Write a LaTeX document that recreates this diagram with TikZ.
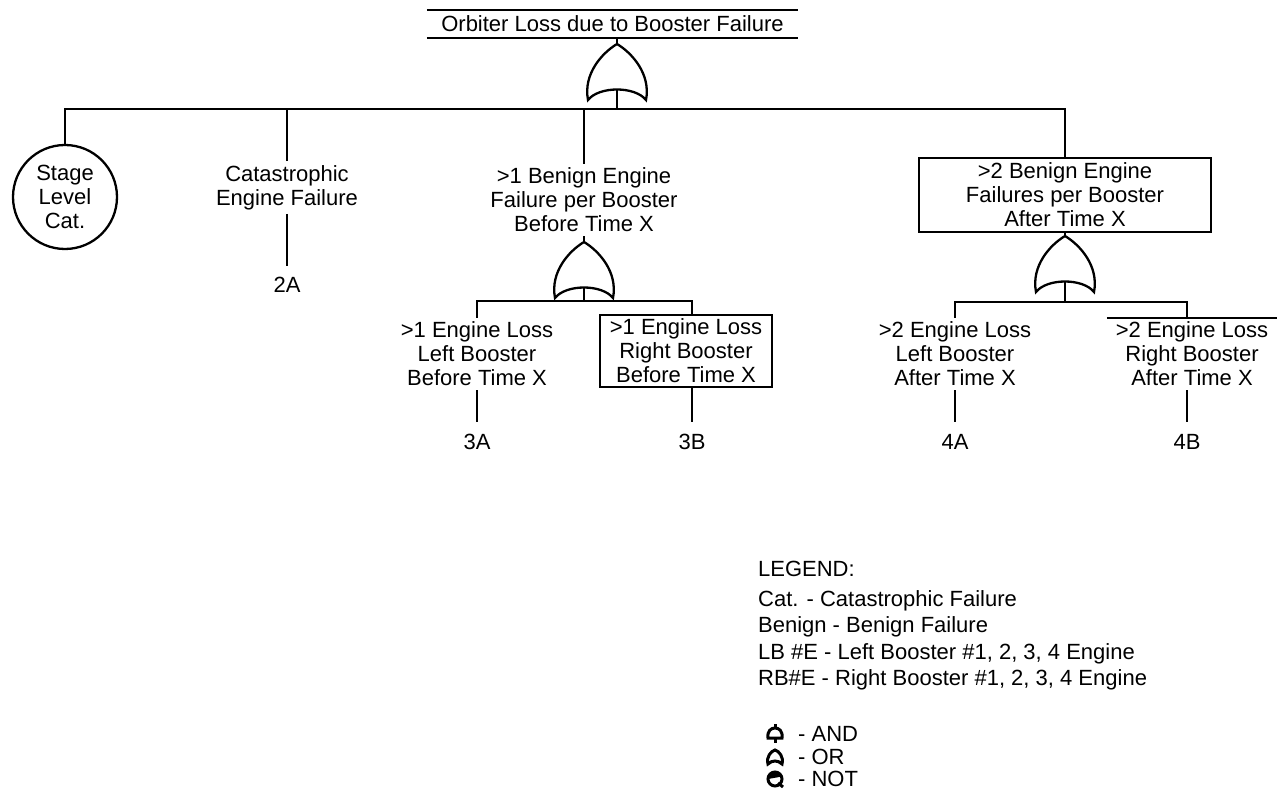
\documentclass[tikz,border=0pt]{standalone}
\usepackage{fontspec}
\setmainfont{Liberation Sans}
\begin{document}
\begin{tikzpicture}[x=1pt,y=-1pt,
  every node/.style={font=\fontsize{22}{24}\selectfont},
  line width=2.3pt,
  txt/.style={align=center, inner sep=3pt},
  boxed/.style={txt, draw, minimum width=172pt, minimum height=72pt},
  lbl/.style={inner sep=1pt},
  leg/.style={anchor=west, inner sep=0pt},
  pics/orgate/.style={code={
    \draw (-29,56) .. controls (-34,30) and (-15,9) .. (0,0)
          .. controls (15,9) and (34,30) .. (29,56)
          .. controls (18,42) and (-18,42) .. (-29,56) -- cycle;
    \coordinate (-top) at (0,0);
    \coordinate (-out) at (0,45.5);
  }},
  pics/orsym/.style={code={
    \draw[line width=3pt] (-7,7) .. controls (-9,0) and (-4,-6) .. (0,-7)
          .. controls (4,-6) and (9,0) .. (7,7)
          .. controls (3,3) and (-3,3) .. (-7,7) -- cycle;
  }},
  pics/andsym/.style={code={
    \draw[line width=3pt] (-7,4) .. controls (-8,-3) and (-4,-6) .. (0,-6)
          .. controls (4,-6) and (8,-3) .. (7,4) -- cycle;
    \draw[line width=3pt] (0,-6) -- (0,-10) (0,4) -- (0,9);
  }},
  pics/notsym/.style={code={
    \draw[line width=3pt] (0,0) circle (7);
    \fill (-7,0) arc (180:340:7) -- cycle;
    \draw[line width=3pt] (3,4) -- (8,8);
  }}
]
\useasboundingbox (0,0) rectangle (1280,791);

% top event
\node[minimum width=369pt, minimum height=26pt, inner sep=0pt] (title) at (612.5,24) {Orbiter Loss due to Booster Failure};
\draw (title.north west) -- (title.north east);
\draw (title.south west) -- (title.south east);

\pic (g1) at (617,44) {orgate};
\coordinate (bus1) at (617,109);

% first level
\node[circle, draw, minimum size=104pt, inner sep=0pt, align=center] (stage) at (65,197) {Stage\\Level\\Cat.};
\node[txt] (cat) at (287,187.5) {Catastrophic\\Engine Failure};
\node[lbl] (l2A) at (287,285) {2A};
\node[txt] (B1) at (584,200) {>1 Benign Engine\\Failure per Booster\\Before Time X};
\node[txt, draw, minimum width=292pt, minimum height=74pt] (B2) at (1065,195) {>2 Benign Engine\\Failures per Booster\\After Time X};

\draw (title.south -| g1-top) -- (g1-top);
\draw (g1-out) -- (bus1);
\draw (stage.north) |- (bus1) -| (B2.north);
\draw (cat.north) -- (cat.north |- bus1);
\draw (B1.north) -- (B1.north |- bus1);
\draw[shorten >=9pt] (cat.south) -- (l2A.north);

% middle gate
\pic (g2) at (584,242) {orgate};
\coordinate (bus2) at (584,301);
\node[txt] (L1) at (477,354) {>1 Engine Loss\\Left Booster\\Before Time X};
\node[boxed] (R1) at (686,351) {>1 Engine Loss\\Right Booster\\Before Time X};
\node[lbl] (l3A) at (477,442) {3A};
\node[lbl] (l3B) at (692,442) {3B};
\draw (B1.south) -- (g2-top);
\draw (g2-out) -- (bus2);
\draw (L1.north) |- (bus2) -| ([xshift=6pt]R1.north);
\draw[shorten >=10pt] (L1.south) -- (l3A.north);
\draw[shorten >=10pt] ([xshift=6pt]R1.south) -- (l3B.north);

% right gate
\pic (g3) at (1065,236) {orgate};
\coordinate (bus3) at (1065,302);
\node[txt] (L2) at (955,354) {>2 Engine Loss\\Left Booster\\After Time X};
\node[txt, minimum width=168pt] (R2) at (1192,354) {>2 Engine Loss\\Right Booster\\After Time X};
\node[lbl] (l4A) at (955,442) {4A};
\node[lbl] (l4B) at (1187,442) {4B};
\draw (B2.south) -- (g3-top);
\draw (g3-out) -- (bus3);
\draw (L2.north) |- (bus3) -| ([xshift=-5pt]R2.north);
\draw (R2.north west) -- (R2.north east);
\draw[shorten >=10pt] (L2.south) -- (l4A.north);
\draw[shorten >=10pt] ([xshift=-5pt]R2.south) -- (l4B.north);

% legend
\node[leg] (lg0) at (757,569) {LEGEND:};
\node[leg] (lg1) at (757,601) {Cat. - Catastrophic Failure};
\node[leg] (lg2) at (757,627) {Benign - Benign Failure};
\node[leg] (lg3) at (757,654) {LB \#E - Left Booster \#1, 2, 3, 4 Engine};
\node[leg] (lg4) at (757,680) {RB\#E - Right Booster \#1, 2, 3, 4 Engine};
\pic at (775,734) {andsym};
\pic at (775,757) {orsym};
\pic at (775,779) {notsym};
\node[leg] (lg5) at (797,734) {- AND};
\node[leg] (lg6) at (797,757) {- OR};
\node[leg] (lg7) at (797,779) {- NOT};
\end{tikzpicture}
\end{document}
